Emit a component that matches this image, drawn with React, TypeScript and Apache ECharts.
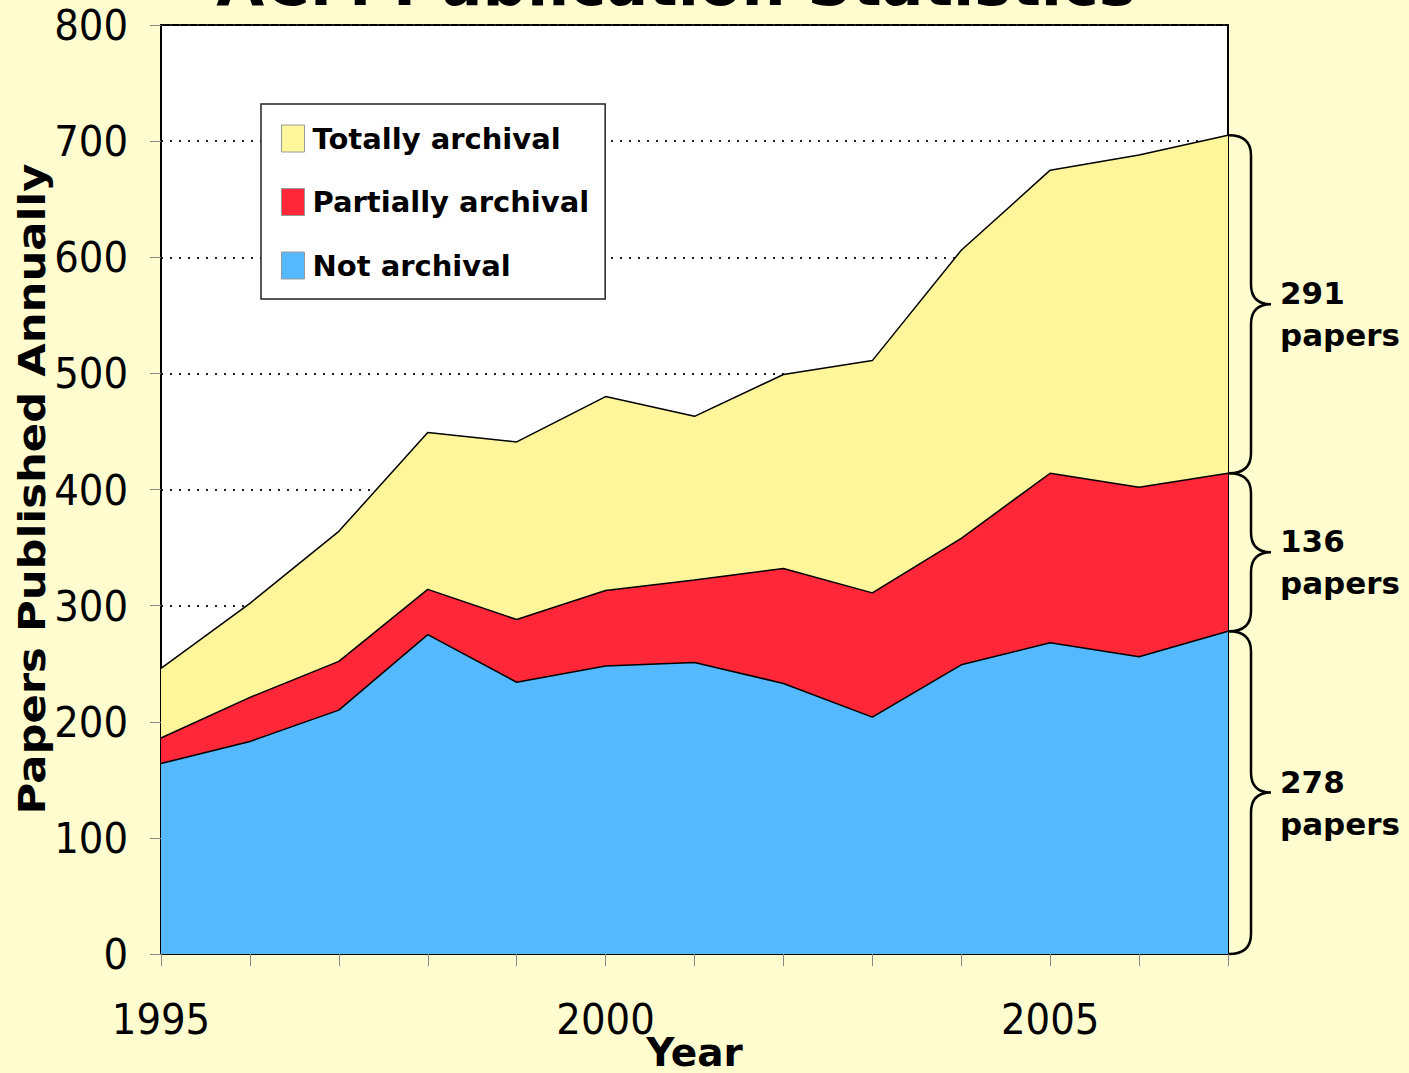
import React, { useEffect, useRef } from 'react';
import * as echarts from 'echarts';

const years = ['1995', '1996', '1997', '1998', '1999', '2000', '2001', '2002', '2003', '2004', '2005', '2006', '2007'];
const notArchival = [164, 183, 210, 275, 234, 248, 251, 233, 204, 249, 268, 256, 278];
const partiallyArchival = [22, 38, 42, 39, 54, 65, 71, 99, 107, 109, 146, 146, 136];
const totallyArchival = [60, 81, 112, 135, 153, 167, 141, 167, 200, 248, 261, 286, 291];
const seriesNames = ['Not archival', 'Partially archival', 'Totally archival'];
const seriesColors = ['#55B9FF', '#FF2738', '#FFF59B'];
const legendOrder = ['Totally archival', 'Partially archival', 'Not archival'];
const yMin = 0;
const yMax = 800;
const yInterval = 100;
const titleText = 'ACM Publication Statistics';
const yAxisTitle = 'Papers Published Annually';
const xAxisTitle = 'Year';
const unitWord = 'papers';

export default function App() {
  const ref = useRef<HTMLDivElement>(null);
  useEffect(() => {
    if (!ref.current) return;
    const chart = echarts.init(ref.current, null, { renderer: 'svg' });
    const seriesData = [notArchival, partiallyArchival, totallyArchival];
    const last = years.length - 1;
    // brace bounds from the last year's stacked values
    const braceData: number[][] = [];
    let acc = 0;
    seriesData.forEach((arr) => {
      braceData.push([last, acc, acc + arr[last]]);
      acc += arr[last];
    });

    const areaSeries = seriesData.map((arr, i) => ({
      name: seriesNames[i],
      type: 'line',
      stack: 'total',
      data: arr,
      symbol: 'none',
      showSymbol: false,
      color: seriesColors[i],
      itemStyle: { color: seriesColors[i], borderColor: '#999', borderWidth: 1 },
      lineStyle: { color: '#000', width: 1.5 },
      areaStyle: { color: seriesColors[i], opacity: 1 },
      z: 3,
    }));

    chart.setOption({
      animation: false,
      backgroundColor: '#FFFDD0',
      textStyle: { fontFamily: '"DejaVu Sans", Verdana, sans-serif' },
      grid: {
        left: 161,
        right: 181,
        top: 25,
        bottom: 119,
        containLabel: false,
        outerBoundsMode: 'none',
        show: true,
        backgroundColor: '#ffffff',
        borderColor: '#000',
        borderWidth: 2,
      },
      legend: {
        data: legendOrder,
        orient: 'vertical',
        left: 261,
        top: 104,
        padding: [20, 16, 19, 20],
        itemGap: 34.5,
        itemWidth: 23,
        itemHeight: 27,
        icon: 'rect',
        backgroundColor: '#ffffff',
        borderColor: '#222',
        borderWidth: 1.5,
        borderRadius: 0,
        itemStyle: { borderColor: '#999', borderWidth: 1 },
        textStyle: {
          fontFamily: '"DejaVu Sans", Verdana, sans-serif',
          fontWeight: 'bold',
          fontSize: 29,
          lineHeight: 27,
          color: '#000',
          padding: [0, 0, 0, 3],
        },
      },
      xAxis: {
        type: 'category',
        data: years,
        boundaryGap: false,
        name: xAxisTitle,
        nameLocation: 'middle',
        nameGap: 79,
        nameMoveOverlap: false,
        nameTextStyle: {
          fontFamily: '"DejaVu Sans", Verdana, sans-serif',
          fontWeight: 'bold',
          fontSize: 39,
          color: '#000',
        },
        axisLine: { show: true, lineStyle: { color: '#000', width: 2 } },
        axisTick: { show: true, interval: 0, length: 12, lineStyle: { color: '#888', width: 1 } },
        axisLabel: {
          interval: (idx: number) => idx % 5 === 0,
          margin: 43,
          fontFamily: '"DejaVu Sans Condensed", "DejaVu Sans", sans-serif',
          fontSize: 43,
          color: '#000',
        },
        splitLine: { show: false },
      },
      yAxis: {
        type: 'value',
        min: yMin,
        max: yMax,
        interval: yInterval,
        axisLine: { show: true, lineStyle: { color: '#000', width: 2 } },
        axisTick: { show: true, length: 11, lineStyle: { color: '#888', width: 1 } },
        axisLabel: {
          margin: 33,
          fontFamily: '"DejaVu Sans Condensed", "DejaVu Sans", sans-serif',
          fontSize: 43,
          color: '#000',
        },
        splitLine: { show: true, lineStyle: { color: '#222', width: 2, type: [2, 7] } },
      },
      graphic: [
        {
          type: 'text',
          x: 676,
          y: -17,
          style: {
            text: titleText,
            font: 'bold 62px "DejaVu Sans", Verdana, sans-serif',
            fill: '#000',
            align: 'center',
            verticalAlign: 'middle',
          },
        },
        {
          type: 'text',
          x: 32,
          y: 489,
          rotation: Math.PI / 2,
          scaleX: 1.14,
          style: {
            text: yAxisTitle,
            font: 'bold 38px "DejaVu Sans", Verdana, sans-serif',
            fill: '#000',
            align: 'center',
            verticalAlign: 'middle',
          },
        },
      ],
      series: [
        ...areaSeries,
        {
          type: 'custom',
          name: 'braces',
          data: braceData,
          encode: { x: 0, y: [1, 2] },
          clip: false,
          silent: true,
          z: 10,
          renderItem: (params: any, api: any) => {
            const xi = api.value(0);
            const lo = api.value(1);
            const hi = api.value(2);
            const pLo = api.coord([xi, lo]);
            const pHi = api.coord([xi, hi]);
            const x0 = pLo[0] + 1;
            const y1 = pHi[1];
            const y2 = pLo[1];
            const ym = (y1 + y2) / 2;
            const w1 = 22;
            const w2 = 42;
            const r = 20;
            const xs = x0 + w1;
            const d =
              `M ${x0} ${y1} C ${x0 + 14} ${y1} ${xs} ${y1 + 6} ${xs} ${y1 + r} ` +
              `L ${xs} ${ym - r} C ${xs} ${ym - 5} ${xs + 8} ${ym} ${x0 + w2} ${ym} ` +
              `C ${xs + 8} ${ym} ${xs} ${ym + 5} ${xs} ${ym + r} ` +
              `L ${xs} ${y2 - r} C ${xs} ${y2 - 6} ${x0 + 14} ${y2} ${x0} ${y2}`;
            return {
              type: 'group',
              children: [
                {
                  type: 'path',
                  shape: { pathData: d },
                  style: { stroke: '#000', lineWidth: 2.5, fill: 'none' },
                },
                {
                  type: 'text',
                  x: x0 + w2 + 9,
                  y: ym - 11,
                  style: {
                    text: String(Math.round(hi - lo)),
                    font: 'bold 31px "DejaVu Sans", Verdana, sans-serif',
                    fill: '#000',
                    align: 'left',
                    verticalAlign: 'middle',
                  },
                },
                {
                  type: 'text',
                  x: x0 + w2 + 9,
                  y: ym + 31,
                  style: {
                    text: unitWord,
                    font: 'bold 31px "DejaVu Sans", Verdana, sans-serif',
                    fill: '#000',
                    align: 'left',
                    verticalAlign: 'middle',
                  },
                },
              ],
            };
          },
        },
      ],
    });
    return () => chart.dispose();
  }, []);

  return (
    <div
      ref={ref}
      style={{ position: 'fixed', left: 0, top: 0, width: 1409, height: 1073 }}
    />
  );
}
